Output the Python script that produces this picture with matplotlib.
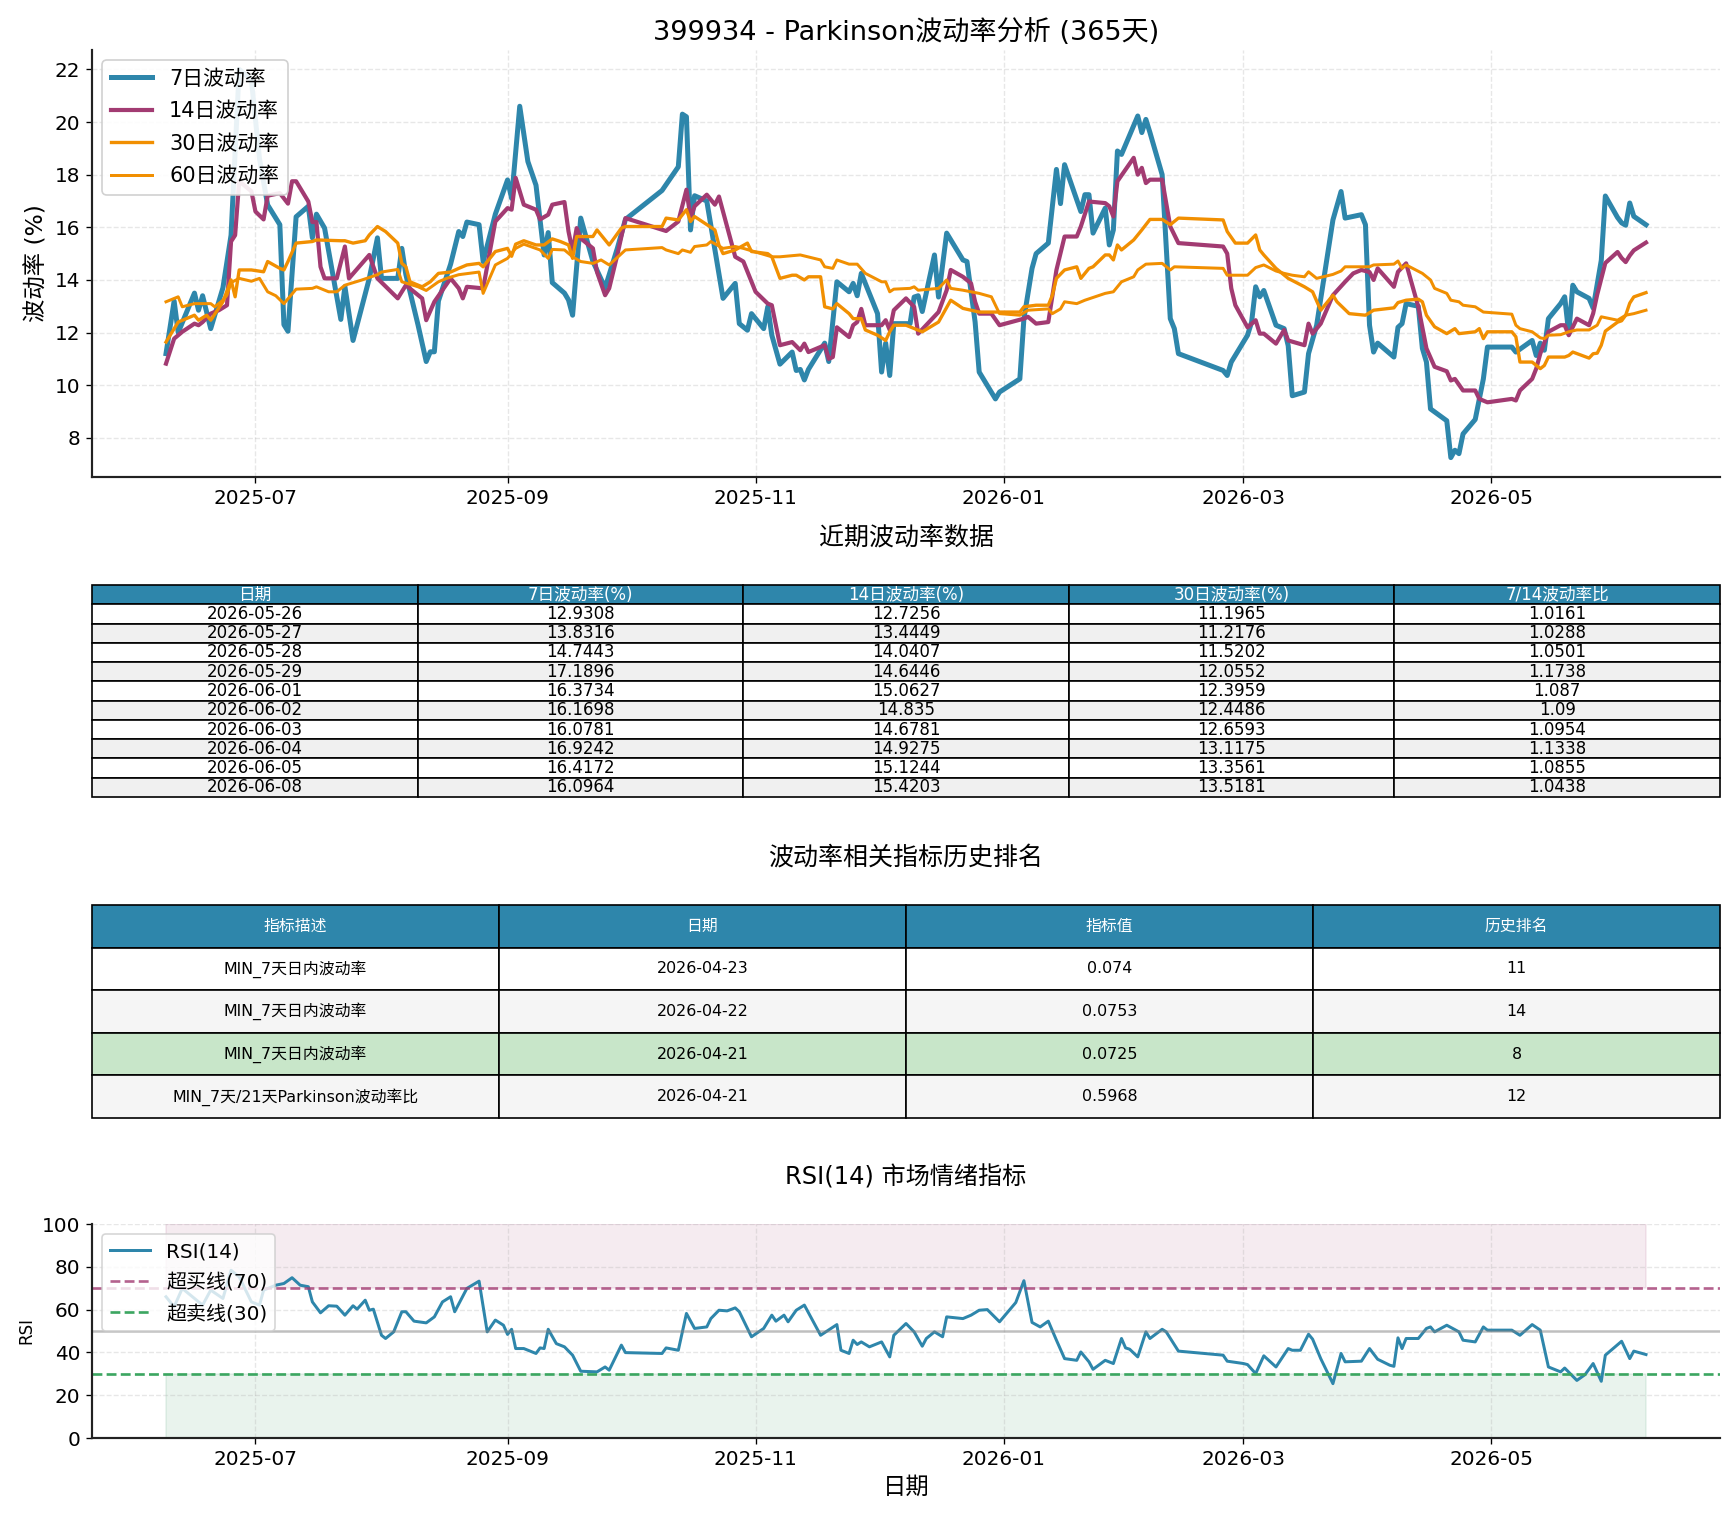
import matplotlib
matplotlib.use("Agg")
import matplotlib.pyplot as plt
import matplotlib.dates as mdates
import pandas as pd

plt.rcParams['font.family'] = ['DejaVu Sans', 'Noto Sans CJK SC']
plt.rcParams['axes.unicode_minus'] = False

# ---- recent table (also the last 10 points of the lines) ----
recent_dates = ['2026-05-26', '2026-05-27', '2026-05-28', '2026-05-29', '2026-06-01',
                '2026-06-02', '2026-06-03', '2026-06-04', '2026-06-05', '2026-06-08']
recent_vol7 = [12.9308, 13.8316, 14.7443, 17.1896, 16.3734, 16.1698, 16.0781, 16.9242, 16.4172, 16.0964]
recent_vol14 = [12.7256, 13.4449, 14.0407, 14.6446, 15.0627, 14.835, 14.6781, 14.9275, 15.1244, 15.4203]
recent_vol30 = [11.1965, 11.2176, 11.5202, 12.0552, 12.3959, 12.4486, 12.6593, 13.1175, 13.3561, 13.5181]
recent_ratio = [1.0161, 1.0288, 1.0501, 1.1738, 1.087, 1.09, 1.0954, 1.1338, 1.0855, 1.0438]

# ---- history ranking table ----
rank_desc = ['MIN_7天日内波动率', 'MIN_7天日内波动率', 'MIN_7天日内波动率', 'MIN_7天/21天Parkinson波动率比']
rank_date = ['2026-04-23', '2026-04-22', '2026-04-21', '2026-04-21']
rank_value = ['0.074', '0.0753', '0.0725', '0.5968']
rank_pos = ['11', '14', '8', '12']

# ---- volatility series (before 2026-05-26) ----
vol7_points = [
    ('2025-06-09', 11.2), ('2025-06-11', 13.2), ('2025-06-12', 12.0), ('2025-06-16', 13.5),
    ('2025-06-17', 12.85), ('2025-06-18', 13.4), ('2025-06-20', 12.15), ('2025-06-23', 13.7),
    ('2025-06-25', 15.7), ('2025-06-27', 22.0), ('2025-06-30', 21.6), ('2025-07-02', 18.6),
    ('2025-07-04', 16.85), ('2025-07-07', 16.1), ('2025-07-08', 12.3), ('2025-07-09', 12.05),
    ('2025-07-11', 16.4), ('2025-07-14', 16.8), ('2025-07-15', 15.6), ('2025-07-16', 16.5),
    ('2025-07-18', 15.97), ('2025-07-22', 12.5), ('2025-07-23', 13.75), ('2025-07-25', 11.7),
    ('2025-07-29', 14.06), ('2025-07-31', 15.6), ('2025-08-01', 14.06), ('2025-08-05', 14.06),
    ('2025-08-06', 15.2), ('2025-08-07', 14.2), ('2025-08-10', 12.28), ('2025-08-12', 10.9),
    ('2025-08-13', 11.27), ('2025-08-14', 11.27), ('2025-08-15', 13.2), ('2025-08-18', 14.6),
    ('2025-08-20', 15.84), ('2025-08-21', 15.65), ('2025-08-22', 16.2), ('2025-08-25', 16.1),
    ('2025-08-26', 14.7), ('2025-08-29', 16.5), ('2025-09-01', 17.8), ('2025-09-02', 17.1),
    ('2025-09-04', 20.6), ('2025-09-06', 18.5), ('2025-09-08', 17.6), ('2025-09-10', 14.95),
    ('2025-09-11', 15.8), ('2025-09-12', 13.9), ('2025-09-15', 13.5), ('2025-09-16', 13.24),
    ('2025-09-17', 12.66), ('2025-09-19', 16.35), ('2025-09-22', 14.7), ('2025-09-25', 13.7),
    ('2025-09-28', 15.2), ('2025-09-30', 16.3), ('2025-10-09', 17.4), ('2025-10-13', 18.3),
    ('2025-10-14', 20.3), ('2025-10-15', 20.2), ('2025-10-16', 15.9), ('2025-10-17', 17.2),
    ('2025-10-20', 17.0), ('2025-10-24', 13.3), ('2025-10-27', 13.87), ('2025-10-28', 12.34),
    ('2025-10-30', 12.09), ('2025-10-31', 12.72), ('2025-11-03', 12.15), ('2025-11-04', 12.98),
    ('2025-11-05', 11.9), ('2025-11-07', 10.8), ('2025-11-10', 11.26), ('2025-11-11', 10.56),
    ('2025-11-12', 10.6), ('2025-11-13', 10.2), ('2025-11-14', 10.6), ('2025-11-18', 11.6),
    ('2025-11-19', 10.9), ('2025-11-21', 13.93), ('2025-11-24', 13.55), ('2025-11-25', 13.87),
    ('2025-11-26', 13.4), ('2025-11-27', 14.25), ('2025-12-01', 12.72), ('2025-12-02', 10.5),
    ('2025-12-03', 11.6), ('2025-12-04', 10.37), ('2025-12-05', 12.34), ('2025-12-09', 12.34),
    ('2025-12-10', 13.35), ('2025-12-11', 13.4), ('2025-12-12', 12.8), ('2025-12-15', 14.95),
    ('2025-12-16', 13.35), ('2025-12-18', 15.78), ('2025-12-22', 14.76), ('2025-12-23', 14.7),
    ('2025-12-25', 12.4), ('2025-12-26', 10.5), ('2025-12-30', 9.48), ('2025-12-31', 9.74),
    ('2026-01-05', 10.24), ('2026-01-06', 12.53), ('2026-01-08', 14.44), ('2026-01-09', 15.0),
    ('2026-01-12', 15.4), ('2026-01-14', 18.2), ('2026-01-15', 16.9), ('2026-01-16', 18.38),
    ('2026-01-20', 16.6), ('2026-01-21', 17.24), ('2026-01-22', 17.24), ('2026-01-23', 15.78),
    ('2026-01-26', 16.73), ('2026-01-27', 15.33), ('2026-01-28', 15.9), ('2026-01-29', 18.9),
    ('2026-01-30', 18.77), ('2026-02-03', 20.23), ('2026-02-04', 19.6), ('2026-02-05', 20.1),
    ('2026-02-06', 19.6), ('2026-02-09', 18.0), ('2026-02-11', 12.53), ('2026-02-12', 12.15),
    ('2026-02-13', 11.2), ('2026-02-24', 10.56), ('2026-02-25', 10.37), ('2026-02-26', 10.88),
    ('2026-03-02', 11.9), ('2026-03-03', 12.4), ('2026-03-04', 13.74), ('2026-03-05', 13.36),
    ('2026-03-06', 13.6), ('2026-03-09', 12.28), ('2026-03-11', 12.15), ('2026-03-12', 11.5),
    ('2026-03-13', 9.6), ('2026-03-16', 9.74), ('2026-03-17', 11.2), ('2026-03-19', 12.28),
    ('2026-03-23', 16.28), ('2026-03-25', 17.36), ('2026-03-26', 16.35), ('2026-03-30', 16.48),
    ('2026-03-31', 16.1), ('2026-04-01', 12.28), ('2026-04-02', 11.26), ('2026-04-03', 11.6),
    ('2026-04-07', 11.07), ('2026-04-08', 12.2), ('2026-04-09', 12.34), ('2026-04-10', 13.1),
    ('2026-04-13', 13.0), ('2026-04-14', 11.4), ('2026-04-15', 10.88), ('2026-04-16', 9.1),
    ('2026-04-20', 8.65), ('2026-04-21', 7.25), ('2026-04-22', 7.53), ('2026-04-23', 7.40),
    ('2026-04-24', 8.15), ('2026-04-27', 8.7), ('2026-04-29', 10.24), ('2026-04-30', 11.45),
    ('2026-05-06', 11.45), ('2026-05-07', 11.26), ('2026-05-11', 11.7), ('2026-05-12', 11.13),
    ('2026-05-13', 11.6), ('2026-05-14', 11.33), ('2026-05-15', 12.53), ('2026-05-18', 13.1),
    ('2026-05-19', 13.36), ('2026-05-20', 11.96), ('2026-05-21', 13.8), ('2026-05-22', 13.55),
    ('2026-05-25', 13.3),
]

vol14_points = [
    ('2025-06-09', 10.82), ('2025-06-11', 11.77), ('2025-06-13', 12.03), ('2025-06-16', 12.34),
    ('2025-06-17', 12.28), ('2025-06-18', 12.4), ('2025-06-20', 12.72), ('2025-06-22', 12.85),
    ('2025-06-24', 13.04), ('2025-06-25', 15.46), ('2025-06-26', 15.7), ('2025-06-27', 17.75),
    ('2025-06-30', 17.37), ('2025-07-01', 16.6), ('2025-07-03', 16.3), ('2025-07-04', 17.2),
    ('2025-07-07', 17.3), ('2025-07-09', 16.9), ('2025-07-10', 17.75), ('2025-07-11', 17.75),
    ('2025-07-14', 16.98), ('2025-07-15', 16.2), ('2025-07-16', 16.2), ('2025-07-17', 14.5),
    ('2025-07-18', 14.06), ('2025-07-21', 14.06), ('2025-07-23', 15.27), ('2025-07-24', 14.06),
    ('2025-07-29', 14.95), ('2025-07-31', 14.06), ('2025-08-05', 13.3), ('2025-08-07', 13.8),
    ('2025-08-11', 13.3), ('2025-08-12', 12.47), ('2025-08-14', 13.17), ('2025-08-18', 14.06),
    ('2025-08-20', 13.68), ('2025-08-21', 13.3), ('2025-08-22', 13.74), ('2025-08-26', 13.68),
    ('2025-08-29', 16.22), ('2025-09-01', 16.73), ('2025-09-02', 16.67), ('2025-09-03', 17.88),
    ('2025-09-05', 16.86), ('2025-09-08', 16.67), ('2025-09-09', 16.3), ('2025-09-11', 16.48),
    ('2025-09-12', 16.86), ('2025-09-15', 16.96), ('2025-09-16', 15.84), ('2025-09-17', 15.08),
    ('2025-09-18', 15.97), ('2025-09-19', 15.58), ('2025-09-22', 15.2), ('2025-09-23', 14.3),
    ('2025-09-25', 13.42), ('2025-09-26', 13.68), ('2025-09-28', 14.95), ('2025-09-30', 16.35),
    ('2025-10-10', 15.86), ('2025-10-13', 16.22), ('2025-10-15', 17.43), ('2025-10-16', 16.35),
    ('2025-10-17', 16.8), ('2025-10-20', 17.24), ('2025-10-22', 16.86), ('2025-10-23', 17.17),
    ('2025-10-27', 14.88), ('2025-10-29', 14.7), ('2025-11-01', 13.55), ('2025-11-04', 13.1),
    ('2025-11-05', 13.04), ('2025-11-07', 11.52), ('2025-11-10', 11.64), ('2025-11-12', 11.33),
    ('2025-11-13', 11.58), ('2025-11-14', 11.26), ('2025-11-18', 11.52), ('2025-11-19', 11.0),
    ('2025-11-20', 11.07), ('2025-11-21', 12.2), ('2025-11-24', 11.83), ('2025-11-25', 12.28),
    ('2025-11-26', 12.4), ('2025-11-27', 12.9), ('2025-11-28', 12.28), ('2025-12-02', 12.28),
    ('2025-12-03', 12.47), ('2025-12-04', 12.1), ('2025-12-05', 12.85), ('2025-12-08', 13.3),
    ('2025-12-10', 12.98), ('2025-12-11', 11.96), ('2025-12-16', 12.78), ('2025-12-18', 13.61),
    ('2025-12-19', 14.38), ('2025-12-22', 14.12), ('2025-12-24', 13.87), ('2025-12-25', 13.17),
    ('2025-12-26', 12.72), ('2025-12-29', 12.72), ('2025-12-31', 12.28), ('2026-01-06', 12.53),
    ('2026-01-07', 12.6), ('2026-01-09', 12.34), ('2026-01-12', 12.4), ('2026-01-14', 14.38),
    ('2026-01-16', 15.65), ('2026-01-19', 15.65), ('2026-01-20', 16.03), ('2026-01-22', 16.98),
    ('2026-01-26', 16.92), ('2026-01-27', 16.8), ('2026-01-28', 16.41), ('2026-01-29', 17.75),
    ('2026-02-02', 18.64), ('2026-02-03', 18.0), ('2026-02-04', 18.26), ('2026-02-05', 17.68),
    ('2026-02-06', 17.81), ('2026-02-09', 17.81), ('2026-02-11', 16.03), ('2026-02-13', 15.4),
    ('2026-02-24', 15.27), ('2026-02-25', 15.0), ('2026-02-26', 13.68), ('2026-02-27', 13.04),
    ('2026-03-02', 12.2), ('2026-03-04', 12.47), ('2026-03-05', 11.96), ('2026-03-06', 11.96),
    ('2026-03-09', 11.58), ('2026-03-11', 12.1), ('2026-03-12', 11.7), ('2026-03-16', 11.52),
    ('2026-03-17', 12.34), ('2026-03-18', 11.96), ('2026-03-20', 12.34), ('2026-03-23', 13.42),
    ('2026-03-26', 13.93), ('2026-03-28', 14.25), ('2026-03-30', 14.38), ('2026-04-01', 14.3),
    ('2026-04-02', 14.0), ('2026-04-03', 14.44), ('2026-04-07', 13.74), ('2026-04-08', 14.31),
    ('2026-04-10', 14.63), ('2026-04-13', 12.98), ('2026-04-15', 11.4), ('2026-04-17', 10.7),
    ('2026-04-20', 10.53), ('2026-04-21', 10.18), ('2026-04-22', 10.24), ('2026-04-24', 9.8),
    ('2026-04-27', 9.8), ('2026-04-28', 9.48), ('2026-04-30', 9.35), ('2026-05-06', 9.48),
    ('2026-05-07', 9.42), ('2026-05-08', 9.8), ('2026-05-11', 10.24), ('2026-05-12', 10.63),
    ('2026-05-13', 11.2), ('2026-05-15', 12.03), ('2026-05-18', 12.28), ('2026-05-19', 12.28),
    ('2026-05-20', 11.9), ('2026-05-22', 12.53), ('2026-05-25', 12.28),
]

vol30_points = [
    ('2025-06-09', 11.64), ('2025-06-12', 12.4), ('2025-06-16', 12.66), ('2025-06-17', 12.47),
    ('2025-06-19', 12.66), ('2025-06-20', 12.47), ('2025-06-23', 13.17), ('2025-06-25', 14.0),
    ('2025-06-26', 13.36), ('2025-06-27', 14.38), ('2025-06-30', 14.38), ('2025-07-03', 14.31),
    ('2025-07-04', 14.7), ('2025-07-07', 14.44), ('2025-07-08', 14.38), ('2025-07-09', 14.7),
    ('2025-07-11', 15.4), ('2025-07-15', 15.46), ('2025-07-16', 15.52), ('2025-07-22', 15.49),
    ('2025-07-23', 15.49), ('2025-07-25', 15.4), ('2025-07-28', 15.49), ('2025-07-29', 15.71),
    ('2025-07-31', 16.03), ('2025-08-02', 15.84), ('2025-08-05', 15.4), ('2025-08-06', 14.63),
    ('2025-08-07', 14.5), ('2025-08-08', 13.93), ('2025-08-11', 13.74), ('2025-08-13', 13.93),
    ('2025-08-15', 14.25), ('2025-08-18', 14.3), ('2025-08-20', 14.44), ('2025-08-22', 14.57),
    ('2025-08-25', 14.63), ('2025-08-26', 14.5), ('2025-08-29', 15.08), ('2025-09-01', 15.2),
    ('2025-09-02', 14.9), ('2025-09-03', 15.36), ('2025-09-05', 15.49), ('2025-09-08', 15.33),
    ('2025-09-10', 15.33), ('2025-09-12', 15.56), ('2025-09-14', 15.46), ('2025-09-16', 15.33),
    ('2025-09-17', 14.82), ('2025-09-18', 15.65), ('2025-09-22', 15.65), ('2025-09-23', 15.9),
    ('2025-09-26', 15.33), ('2025-09-29', 15.97), ('2025-09-30', 16.03), ('2025-10-09', 16.03),
    ('2025-10-10', 16.35), ('2025-10-13', 16.28), ('2025-10-15', 16.67), ('2025-10-16', 16.22),
    ('2025-10-17', 16.41), ('2025-10-22', 15.9), ('2025-10-23', 15.33), ('2025-10-24', 15.0),
    ('2025-10-27', 15.14), ('2025-10-30', 15.4), ('2025-10-31', 15.08), ('2025-11-04', 15.0),
    ('2025-11-05', 14.88), ('2025-11-07', 14.06), ('2025-11-10', 14.18), ('2025-11-11', 14.18),
    ('2025-11-13', 14.0), ('2025-11-14', 14.12), ('2025-11-17', 14.12), ('2025-11-18', 12.98),
    ('2025-11-20', 12.9), ('2025-11-21', 13.1), ('2025-11-24', 12.72), ('2025-11-25', 12.53),
    ('2025-11-27', 12.53), ('2025-11-28', 12.1), ('2025-12-01', 11.9), ('2025-12-03', 11.7),
    ('2025-12-04', 12.03), ('2025-12-05', 12.28), ('2025-12-08', 12.28), ('2025-12-12', 12.03),
    ('2025-12-16', 12.4), ('2025-12-19', 13.23), ('2025-12-22', 12.92), ('2025-12-26', 12.78),
    ('2025-12-31', 12.78), ('2026-01-05', 12.78), ('2026-01-06', 12.98), ('2026-01-09', 13.04),
    ('2026-01-12', 13.04), ('2026-01-13', 13.42), ('2026-01-14', 14.06), ('2026-01-16', 14.38),
    ('2026-01-19', 14.5), ('2026-01-20', 14.06), ('2026-01-22', 14.44), ('2026-01-23', 14.5),
    ('2026-01-26', 14.95), ('2026-01-27', 14.95), ('2026-01-28', 14.76), ('2026-01-29', 15.33),
    ('2026-01-30', 15.14), ('2026-02-02', 15.52), ('2026-02-04', 15.9), ('2026-02-06', 16.3),
    ('2026-02-09', 16.3), ('2026-02-11', 16.1), ('2026-02-13', 16.35), ('2026-02-24', 16.28),
    ('2026-02-25', 15.84), ('2026-02-27', 15.4), ('2026-03-02', 15.4), ('2026-03-04', 15.71),
    ('2026-03-05', 15.14), ('2026-03-06', 14.95), ('2026-03-09', 14.44), ('2026-03-12', 14.06),
    ('2026-03-16', 13.74), ('2026-03-18', 13.55), ('2026-03-20', 12.85), ('2026-03-23', 13.42),
    ('2026-03-24', 13.17), ('2026-03-27', 12.72), ('2026-03-31', 12.66), ('2026-04-02', 12.85),
    ('2026-04-07', 12.94), ('2026-04-08', 13.14), ('2026-04-10', 13.23), ('2026-04-13', 13.27),
    ('2026-04-14', 13.17), ('2026-04-15', 12.66), ('2026-04-17', 12.22), ('2026-04-20', 11.96),
    ('2026-04-22', 12.15), ('2026-04-23', 11.96), ('2026-04-27', 12.03), ('2026-04-28', 12.15),
    ('2026-04-29', 11.77), ('2026-04-30', 12.03), ('2026-05-06', 12.03), ('2026-05-07', 11.84),
    ('2026-05-08', 10.88), ('2026-05-11', 10.88), ('2026-05-13', 10.63), ('2026-05-14', 10.75),
    ('2026-05-15', 11.07), ('2026-05-19', 11.07), ('2026-05-20', 11.13), ('2026-05-21', 11.26),
    ('2026-05-25', 11.03),
]

vol60_points = [
    ('2025-06-09', 13.17), ('2025-06-12', 13.36), ('2025-06-13', 12.98), ('2025-06-16', 13.1),
    ('2025-06-20', 13.1), ('2025-06-21', 12.98), ('2025-06-23', 13.23), ('2025-06-24', 13.42),
    ('2025-06-25', 13.9), ('2025-06-27', 14.06), ('2025-06-30', 13.95), ('2025-07-02', 14.06),
    ('2025-07-04', 13.55), ('2025-07-06', 13.4), ('2025-07-08', 13.1), ('2025-07-11', 13.65),
    ('2025-07-15', 13.68), ('2025-07-16', 13.74), ('2025-07-19', 13.55), ('2025-07-21', 13.55),
    ('2025-07-23', 13.8), ('2025-07-27', 13.99), ('2025-07-31', 14.2), ('2025-08-01', 14.3),
    ('2025-08-05', 14.4), ('2025-08-06', 13.93), ('2025-08-10', 13.74), ('2025-08-12', 13.6),
    ('2025-08-15', 13.93), ('2025-08-17', 14.06), ('2025-08-20', 14.2), ('2025-08-25', 14.3),
    ('2025-08-26', 13.49), ('2025-08-29', 14.57), ('2025-09-01', 14.82), ('2025-09-03', 15.2),
    ('2025-09-05', 15.36), ('2025-09-09', 15.14), ('2025-09-11', 14.82), ('2025-09-12', 15.16),
    ('2025-09-15', 15.14), ('2025-09-17', 14.88), ('2025-09-19', 14.7), ('2025-09-22', 14.63),
    ('2025-09-24', 14.76), ('2025-09-26', 14.57), ('2025-09-30', 15.14), ('2025-10-09', 15.23),
    ('2025-10-10', 15.14), ('2025-10-13', 15.0), ('2025-10-14', 15.14), ('2025-10-16', 15.05),
    ('2025-10-17', 15.27), ('2025-10-20', 15.33), ('2025-10-21', 15.46), ('2025-10-24', 15.2),
    ('2025-10-27', 15.27), ('2025-10-29', 15.2), ('2025-11-05', 14.88), ('2025-11-07', 14.88),
    ('2025-11-12', 14.95), ('2025-11-17', 14.76), ('2025-11-18', 14.5), ('2025-11-20', 14.44),
    ('2025-11-21', 14.76), ('2025-11-24', 14.6), ('2025-11-26', 14.6), ('2025-11-28', 14.25),
    ('2025-12-02', 13.93), ('2025-12-03', 13.93), ('2025-12-04', 13.55), ('2025-12-05', 13.65),
    ('2025-12-09', 13.68), ('2025-12-10', 13.74), ('2025-12-11', 13.61), ('2025-12-16', 13.68),
    ('2025-12-18', 14.0), ('2025-12-19', 13.68), ('2025-12-22', 13.61), ('2025-12-26', 13.49),
    ('2025-12-29', 13.36), ('2025-12-31', 12.72), ('2026-01-05', 12.66), ('2026-01-07', 12.85),
    ('2026-01-12', 12.9), ('2026-01-13', 12.72), ('2026-01-15', 12.9), ('2026-01-16', 13.17),
    ('2026-01-19', 13.1), ('2026-01-21', 13.23), ('2026-01-26', 13.49), ('2026-01-28', 13.55),
    ('2026-01-30', 13.93), ('2026-02-02', 14.12), ('2026-02-03', 14.38), ('2026-02-05', 14.6),
    ('2026-02-09', 14.63), ('2026-02-11', 14.38), ('2026-02-12', 14.5), ('2026-02-24', 14.44),
    ('2026-02-25', 14.18), ('2026-03-02', 14.18), ('2026-03-04', 14.47), ('2026-03-06', 14.57),
    ('2026-03-09', 14.34), ('2026-03-11', 14.25), ('2026-03-13', 14.18), ('2026-03-16', 14.12),
    ('2026-03-17', 14.31), ('2026-03-19', 14.06), ('2026-03-23', 14.21), ('2026-03-25', 14.34),
    ('2026-03-26', 14.5), ('2026-04-01', 14.5), ('2026-04-02', 14.57), ('2026-04-07', 14.6),
    ('2026-04-08', 14.72), ('2026-04-09', 14.44), ('2026-04-10', 14.57), ('2026-04-14', 14.25),
    ('2026-04-16', 14.0), ('2026-04-17', 13.68), ('2026-04-20', 13.49), ('2026-04-21', 13.23),
    ('2026-04-23', 13.17), ('2026-04-24', 13.04), ('2026-04-27', 12.98), ('2026-04-29', 12.78),
    ('2026-05-06', 12.7), ('2026-05-07', 12.28), ('2026-05-08', 12.15), ('2026-05-11', 12.03),
    ('2026-05-13', 11.8), ('2026-05-14', 11.77), ('2026-05-15', 11.9), ('2026-05-18', 11.92),
    ('2026-05-20', 12.03), ('2026-05-22', 12.1), ('2026-05-25', 12.1), ('2026-05-27', 12.28),
    ('2026-05-28', 12.6), ('2026-06-01', 12.47), ('2026-06-03', 12.66), ('2026-06-05', 12.72),
    ('2026-06-08', 12.85),
]

rsi_points = [
    ('2025-06-09', 66.0), ('2025-06-11', 61.3), ('2025-06-13', 69.9), ('2025-06-16', 65.2),
    ('2025-06-18', 62.1), ('2025-06-20', 69.1), ('2025-06-23', 65.2), ('2025-06-25', 78.4),
    ('2025-06-27', 75.3), ('2025-06-30', 63.6), ('2025-07-02', 62.1), ('2025-07-03', 69.1),
    ('2025-07-06', 71.4), ('2025-07-08', 72.2), ('2025-07-10', 74.9), ('2025-07-12', 71.4),
    ('2025-07-14', 70.7), ('2025-07-15', 63.6), ('2025-07-17', 58.5), ('2025-07-19', 61.8),
    ('2025-07-21', 61.6), ('2025-07-23', 57.4), ('2025-07-25', 61.8), ('2025-07-26', 60.2),
    ('2025-07-28', 64.4), ('2025-07-29', 59.7), ('2025-07-30', 60.2), ('2025-08-01', 48.0),
    ('2025-08-02', 46.5), ('2025-08-04', 49.6), ('2025-08-06', 59.0), ('2025-08-07', 59.0),
    ('2025-08-09', 54.6), ('2025-08-12', 53.8), ('2025-08-14', 56.6), ('2025-08-16', 63.6),
    ('2025-08-18', 66.0), ('2025-08-19', 59.0), ('2025-08-22', 69.9), ('2025-08-25', 73.3),
    ('2025-08-27', 49.6), ('2025-08-29', 55.1), ('2025-08-31', 52.7), ('2025-09-01', 48.4),
    ('2025-09-02', 50.8), ('2025-09-03', 41.8), ('2025-09-05', 41.8), ('2025-09-08', 39.5),
    ('2025-09-09', 42.1), ('2025-09-10', 41.8), ('2025-09-11', 50.8), ('2025-09-13', 44.1),
    ('2025-09-15', 42.6), ('2025-09-17', 38.7), ('2025-09-19', 31.2), ('2025-09-23', 30.9),
    ('2025-09-25', 33.2), ('2025-09-26', 31.7), ('2025-09-29', 43.4), ('2025-09-30', 39.9),
    ('2025-10-09', 39.5), ('2025-10-10', 42.1), ('2025-10-13', 41.0), ('2025-10-15', 58.2),
    ('2025-10-17', 51.2), ('2025-10-20', 51.9), ('2025-10-21', 55.8), ('2025-10-23', 59.7),
    ('2025-10-25', 59.4), ('2025-10-27', 60.8), ('2025-10-28', 59.0), ('2025-10-31', 47.3),
    ('2025-11-03', 51.2), ('2025-11-05', 57.4), ('2025-11-06', 54.6), ('2025-11-08', 57.4),
    ('2025-11-09', 54.3), ('2025-11-11', 59.7), ('2025-11-13', 62.1), ('2025-11-17', 48.0),
    ('2025-11-21', 53.0), ('2025-11-22', 41.0), ('2025-11-24', 39.5), ('2025-11-25', 45.7),
    ('2025-11-26', 43.7), ('2025-11-27', 44.9), ('2025-11-29', 42.6), ('2025-12-02', 44.9),
    ('2025-12-04', 37.9), ('2025-12-05', 48.0), ('2025-12-08', 53.5), ('2025-12-10', 49.6),
    ('2025-12-12', 42.9), ('2025-12-13', 46.5), ('2025-12-15', 49.6), ('2025-12-17', 47.3),
    ('2025-12-18', 56.6), ('2025-12-22', 55.8), ('2025-12-24', 57.4), ('2025-12-26', 59.7),
    ('2025-12-28', 60.0), ('2025-12-31', 54.3), ('2026-01-04', 63.3), ('2026-01-06', 73.5),
    ('2026-01-08', 54.0), ('2026-01-10', 51.9), ('2026-01-12', 54.6), ('2026-01-14', 45.7),
    ('2026-01-16', 37.1), ('2026-01-19', 36.3), ('2026-01-20', 40.2), ('2026-01-22', 35.6),
    ('2026-01-23', 32.1), ('2026-01-26', 36.3), ('2026-01-28', 34.8), ('2026-01-30', 46.5),
    ('2026-01-31', 42.1), ('2026-02-01', 41.5), ('2026-02-03', 37.9), ('2026-02-05', 49.6),
    ('2026-02-06', 46.5), ('2026-02-09', 50.8), ('2026-02-10', 49.6), ('2026-02-13', 40.6),
    ('2026-02-24', 38.7), ('2026-02-25', 35.9), ('2026-03-01', 34.8), ('2026-03-02', 34.3),
    ('2026-03-04', 30.1), ('2026-03-06', 38.4), ('2026-03-09', 33.2), ('2026-03-12', 41.8),
    ('2026-03-13', 41.0), ('2026-03-15', 41.0), ('2026-03-17', 48.5), ('2026-03-18', 46.2),
    ('2026-03-20', 37.1), ('2026-03-23', 25.4), ('2026-03-25', 39.5), ('2026-03-26', 35.6),
    ('2026-03-30', 35.9), ('2026-04-01', 41.8), ('2026-04-03', 36.8), ('2026-04-06', 34.0),
    ('2026-04-07', 33.5), ('2026-04-08', 46.8), ('2026-04-09', 41.8), ('2026-04-10', 46.5),
    ('2026-04-13', 46.5), ('2026-04-15', 51.2), ('2026-04-16', 51.9), ('2026-04-17', 49.6),
    ('2026-04-20', 52.7), ('2026-04-23', 49.6), ('2026-04-24', 45.7), ('2026-04-27', 44.9),
    ('2026-04-29', 51.9), ('2026-04-30', 50.4), ('2026-05-06', 50.4), ('2026-05-08', 48.0),
    ('2026-05-11', 53.0), ('2026-05-13', 50.4), ('2026-05-15', 33.2), ('2026-05-18', 30.9),
    ('2026-05-19', 32.7), ('2026-05-22', 26.9), ('2026-05-24', 29.6), ('2026-05-26', 34.8),
    ('2026-05-28', 26.5), ('2026-05-29', 38.7), ('2026-06-02', 45.2), ('2026-06-04', 37.1),
    ('2026-06-05', 40.6), ('2026-06-08', 39.0),
]


def to_series(points, tail_dates=None, tail_values=None):
    d = [p[0] for p in points]
    v = [p[1] for p in points]
    if tail_dates is not None:
        d = d + tail_dates
        v = v + tail_values
    return pd.to_datetime(d), v


C_BLUE = '#2E86AB'
C_PURPLE = '#A23B72'
C_ORANGE = '#F18F01'
C_GREEN = '#3CA661'

W, H = 1734, 1516
fig = plt.figure(figsize=(W / 120, H / 120), dpi=120)


def rect(top, bottom, left=92, right=1720):
    return [left / W, 1 - bottom / H, (right - left) / W, (bottom - top) / H]


def style_axes(a):
    a.spines['top'].set_visible(False)
    a.spines['right'].set_visible(False)
    for s in ('left', 'bottom'):
        a.spines[s].set_linewidth(1.3)
        a.spines[s].set_color('#222222')
    a.grid(True, linestyle='--', alpha=0.3)
    a.tick_params(labelsize=12)
    a.xaxis.set_major_locator(mdates.MonthLocator(bymonth=[1, 3, 5, 7, 9, 11]))
    a.xaxis.set_major_formatter(mdates.DateFormatter('%Y-%m'))


# ---- main volatility chart ----
ax = fig.add_axes(rect(50, 477))
x7, y7 = to_series(vol7_points, recent_dates, recent_vol7)
x14, y14 = to_series(vol14_points, recent_dates, recent_vol14)
x30, y30 = to_series(vol30_points, recent_dates, recent_vol30)
x60, y60 = to_series(vol60_points)
ax.plot(x7, y7, color=C_BLUE, lw=3, label='7日波动率')
ax.plot(x14, y14, color=C_PURPLE, lw=2.5, label='14日波动率')
ax.plot(x30, y30, color=C_ORANGE, lw=2, label='30日波动率')
ax.plot(x60, y60, color=C_ORANGE, lw=1.8, label='60日波动率')
ax.set_title('399934 - Parkinson波动率分析 (365天)', fontsize=16.3)
ax.set_ylabel('波动率 (%)', fontsize=14)
ax.legend(loc='upper left', fontsize=12.5, framealpha=0.9, labelspacing=0.6)
style_axes(ax)

# ---- recent data table ----
ax_t1 = fig.add_axes(rect(585, 797))
ax_t1.axis('off')
t1_cols = ['日期', '7日波动率(%)', '14日波动率(%)', '30日波动率(%)', '7/14波动率比']
t1_rows = [[d, str(a), str(b), str(c), str(r)]
           for d, a, b, c, r in zip(recent_dates, recent_vol7, recent_vol14, recent_vol30, recent_ratio)]
t1 = ax_t1.table(cellText=t1_rows, colLabels=t1_cols, cellLoc='center', loc='center', bbox=[0, 0, 1, 1])
t1.auto_set_font_size(False)
t1.set_fontsize(10)
for (r, c), cell in t1.get_celld().items():
    cell.set_edgecolor('black')
    if r == 0:
        cell.set_facecolor(C_BLUE)
        cell.get_text().set_color('white')
    else:
        cell.set_facecolor('white' if r % 2 == 1 else '#f0f0f0')
ax_t1.set_title('近期波动率数据', fontsize=15, pad=24)

# ---- ranking table ----
ax_t2 = fig.add_axes(rect(905, 1118))
ax_t2.axis('off')
t2_cols = ['指标描述', '日期', '指标值', '历史排名']
t2_rows = [list(row) for row in zip(rank_desc, rank_date, rank_value, rank_pos)]
t2_colors = ['white', '#f5f5f5', '#c8e6c9', '#f5f5f5']
t2 = ax_t2.table(cellText=t2_rows, colLabels=t2_cols, cellLoc='center', loc='center', bbox=[0, 0, 1, 1])
t2.auto_set_font_size(False)
t2.set_fontsize(9.5)
for (r, c), cell in t2.get_celld().items():
    cell.set_edgecolor('black')
    if r == 0:
        cell.set_facecolor(C_BLUE)
        cell.get_text().set_color('white')
    else:
        cell.set_facecolor(t2_colors[r - 1])
ax_t2.set_title('波动率相关指标历史排名', fontsize=15, pad=24)

# ---- RSI ----
ax_r = fig.add_axes(rect(1224, 1438))
xr, yr = to_series(rsi_points)
ax_r.plot(xr, yr, color=C_BLUE, lw=1.8, label='RSI(14)')
ax_r.axhline(70, color=C_PURPLE, linestyle='--', lw=1.6, alpha=0.8, label='超买线(70)')
ax_r.axhline(30, color=C_GREEN, linestyle='--', lw=1.6, label='超卖线(30)')
ax_r.axhline(50, color='gray', lw=1.5, alpha=0.5)
ax_r.fill_between(xr, 70, 100, color=C_PURPLE, alpha=0.1)
ax_r.fill_between(xr, 0, 30, color='#2E8B57', alpha=0.1)
ax_r.set_ylim(0, 100)
ax_r.set_xlim(ax.get_xlim())
ax_r.set_title('RSI(14) 市场情绪指标', fontsize=14.5, pad=24)
ax_r.set_ylabel('RSI', fontsize=10)
ax_r.set_xlabel('日期', fontsize=14)
ax_r.legend(loc='upper left', fontsize=12, framealpha=0.8, labelspacing=0.6)
style_axes(ax_r)

fig.savefig('out.png', dpi=120)
